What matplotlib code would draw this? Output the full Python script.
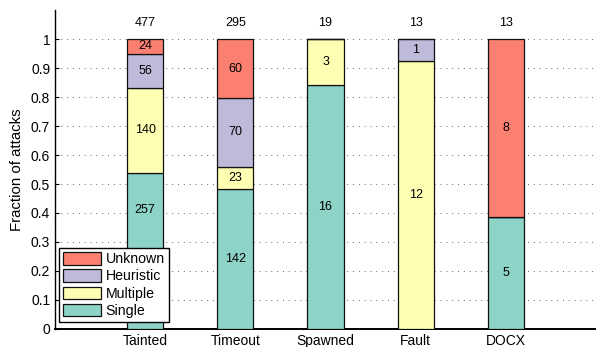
import matplotlib
matplotlib.use("Agg")
import matplotlib.pyplot as plt
import numpy as np

plt.rcParams['font.family'] = ['Liberation Sans', 'DejaVu Sans']

categories = ["Tainted", "Timeout", "Spawned", "Fault", "DOCX"]
single = [257, 142, 16, 0, 5]
multiple = [140, 23, 3, 12, 0]
heuristic = [56, 70, 0, 1, 0]
unknown = [24, 60, 0, 0, 8]
series_names = ["Single", "Multiple", "Heuristic", "Unknown"]
colors = ["#8DD3C7", "#FFFFB3", "#BEBADA", "#FB8072"]
y_ticks = [0, 0.1, 0.2, 0.3, 0.4, 0.5, 0.6, 0.7, 0.8, 0.9, 1.0]

series = [single, multiple, heuristic, unknown]
totals = np.sum(series, axis=0)

# fraction covered by the legend box; labels hidden behind it are lifted above
legend_top = 0.28

fig = plt.figure(figsize=(5.96, 3.47), dpi=100)
ax = fig.add_axes([0.0923, 0.052, 0.9077, 0.919])

x = np.arange(1, len(categories) + 1)
bottom = np.zeros(len(categories))
handles = []
for vals, name, col in zip(series, series_names, colors):
    frac = np.array(vals) / totals
    bars = ax.bar(x, frac, 0.4, bottom=bottom, color=col, edgecolor="#111111",
                  linewidth=0.9, label=name, zorder=3)
    handles.append(bars)
    for i, (xi, v, f, b) in enumerate(zip(x, vals, frac, bottom)):
        if v > 0:
            lo = b
            if i == 0 and b < legend_top:
                lo = legend_top
            ax.text(xi, (lo + b + f) / 2, str(v), ha="center", va="center",
                    fontsize=9, zorder=4)
    bottom = bottom + frac

for xi, t in zip(x, totals):
    ax.text(xi, 1.057, str(t), ha="center", va="center", fontsize=9)

ax.set_xlim(0, 6)
ax.set_ylim(0, 1.1)
ax.set_xticks(x)
ax.set_xticklabels(categories, fontsize=10)
ax.set_yticks(y_ticks)
ax.set_yticklabels([f"{t:g}" for t in y_ticks], fontsize=10)
ax.set_ylabel("Fraction of attacks", fontsize=10.8, labelpad=5)
ax.yaxis.grid(True, linestyle=(0, (1, 5)), color="#666666", linewidth=0.7, zorder=0)
ax.tick_params(direction="in", length=3, width=0.8)
ax.spines["top"].set_visible(False)
ax.spines["right"].set_visible(False)
ax.spines["left"].set_linewidth(1.0)
ax.spines["bottom"].set_linewidth(1.4)

leg = ax.legend(handles[::-1], series_names[::-1], loc="lower left",
                bbox_to_anchor=(0.007, 0.022), fontsize=10.2, frameon=True,
                fancybox=False, edgecolor="black", framealpha=1,
                handlelength=2.65, handleheight=0.95, labelspacing=0.22,
                borderpad=0.3, handletextpad=0.35, borderaxespad=0.0)
leg.get_frame().set_linewidth(1.0)
leg.set_zorder(5)

fig.savefig("out.png", dpi=100)
